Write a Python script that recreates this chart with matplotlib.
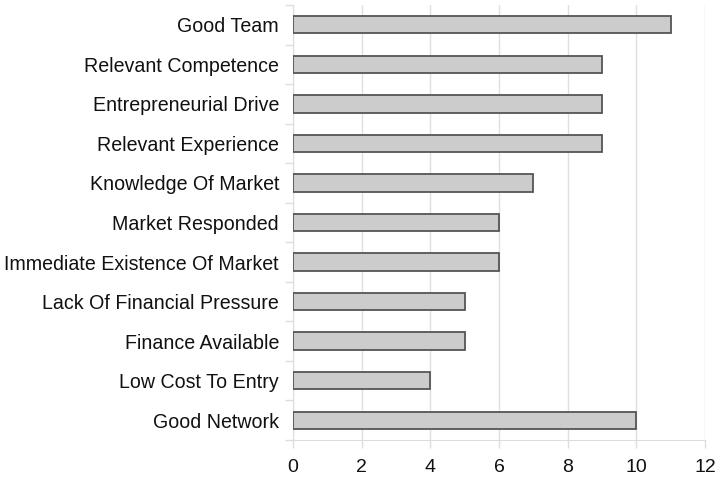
import matplotlib
matplotlib.use("Agg")
import matplotlib.pyplot as plt

categories = ["Good Team", "Relevant Competence", "Entrepreneurial Drive",
              "Relevant Experience", "Knowledge Of Market", "Market Responded",
              "Immediate Existence Of Market", "Lack Of Financial Pressure",
              "Finance Available", "Low Cost To Entry", "Good Network"]
values = [11, 9, 9, 9, 7, 6, 6, 5, 5, 4, 10]
xticks = [0, 2, 4, 6, 8, 10, 12]

plt.rcParams['font.family'] = ['Liberation Sans', 'DejaVu Sans']
fig = plt.figure(figsize=(7.19, 4.78), dpi=100)
ax = fig.add_axes([0.4075, 0.0795, 0.573, 0.91])

pos = list(range(len(categories)))
ax.barh(pos, values, height=0.44, color="#cccccc", edgecolor="#555555", linewidth=1.3, zorder=3)
ax.set_ylim(len(categories) - 0.5, -0.5)
ax.set_xlim(0, 12)
ax.set_xticks(xticks)
ax.set_xticklabels([str(t) for t in xticks], fontsize=14, color="#111111")
ax.set_yticks([p + 0.5 for p in pos[:-1]] + [-0.5, len(categories) - 0.5], minor=False)
ax.set_yticklabels([])
ax.set_yticks(pos, minor=True)
ax.set_yticklabels(categories, minor=True, fontsize=14.1, color="#111111")
ax.tick_params(axis='y', which='minor', length=0, pad=10)
ax.tick_params(axis='y', which='major', length=6, color="#dddddd", width=1)
ax.tick_params(axis='x', length=6, color="#dddddd", width=1, pad=8)
ax.grid(axis='x', color="#e0e0e0", linewidth=1, zorder=0)
for s in ['top', 'right']:
    ax.spines[s].set_visible(False)
for s in ['left', 'bottom']:
    ax.spines[s].set_color("#dddddd")
fig.savefig("out.png", dpi=100)
